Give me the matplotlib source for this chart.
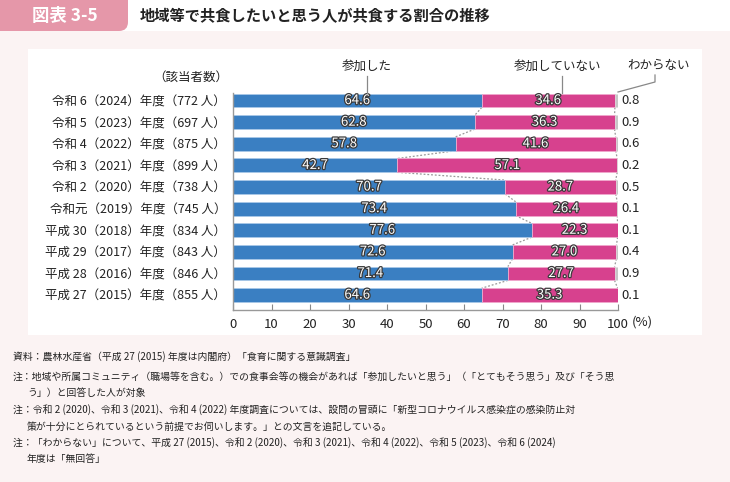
import numpy as np
import matplotlib.pyplot as plt
import matplotlib.patheffects as pe
from matplotlib.patches import Rectangle, FancyBboxPatch
from matplotlib.lines import Line2D
from matplotlib.transforms import IdentityTransform

plt.rcParams['font.family'] = ['Noto Sans CJK JP', 'DejaVu Sans']

# data (top row first)
era = ['令和 6', '令和 5', '令和 4', '令和 3', '令和 2', '令和元',
       '平成 30', '平成 29', '平成 28', '平成 27']
years = ['2024', '2023', '2022', '2021', '2020', '2019', '2018', '2017', '2016', '2015']
counts = ['772', '697', '875', '899', '738', '745', '834', '843', '846', '855']
sanka = [64.6, 62.8, 57.8, 42.7, 70.7, 73.4, 77.6, 72.6, 71.4, 64.6]
fusanka = [34.6, 36.3, 41.6, 57.1, 28.7, 26.4, 22.3, 27.0, 27.7, 35.3]
wakaranai = [0.8, 0.9, 0.6, 0.2, 0.5, 0.1, 0.1, 0.4, 0.9, 0.1]

BLUE = '#3a7fc2'
PINK = '#d7418e'
GREY = '#c6c6c6'

W, H = 730, 482
fig = plt.figure(figsize=(W / 100, H / 100), dpi=100)
fig.patch.set_facecolor('white')


def fx(px):
    return px / W


def fy(py):
    return 1 - py / H


# header box + backgrounds
fig.add_artist(FancyBboxPatch((-20, H - 31), 148, 60,
                              boxstyle='round,pad=0,rounding_size=9',
                              transform=IdentityTransform(),
                              fc='#e597a9', ec='none', zorder=-3))
fig.add_artist(Rectangle((0, 0), 1, fy(31), transform=fig.transFigure,
                         fc='#fbf3f3', ec='none', zorder=-2))
fig.add_artist(Rectangle((fx(28), fy(335)), fx(702) - fx(28), fy(49) - fy(335),
                         transform=fig.transFigure, fc='white', ec='none', zorder=-1))

fig.text(fx(65), fy(16), '図表 3-5', color='white', fontsize=12.5,
         fontweight='bold', ha='center', va='center')
fig.text(fx(140), fy(16), '地域等で共食したいと思う人が共食する割合の推移',
         fontsize=11, fontweight='bold', ha='left', va='center', color='#222')

# chart
ax = fig.add_axes([fx(233), fy(310), fx(618) - fx(233), fy(93) - fy(310)])
ax.patch.set_visible(False)

y = np.arange(len(sanka))
s = np.array(sanka)
f = np.array(fusanka)
w = np.array(wakaranai)
bh = 0.64

ax.barh(y, s, height=bh, color=BLUE, edgecolor='#a9c8e8', linewidth=0.6, zorder=2)
ax.barh(y, f, left=s, height=bh, color=PINK, edgecolor='#f0a8cc', linewidth=0.6, zorder=2)
ax.barh(y, w, left=s + f, height=bh, color=GREY, edgecolor='#e0e0e0', linewidth=0.4, zorder=2)

stroke = [pe.withStroke(linewidth=1.8, foreground='#3a3a3a')]
for i in range(len(y)):
    ax.text(s[i] / 2, i, f'{s[i]:.1f}', ha='center', va='center', color='white',
            fontsize=9.5, path_effects=stroke, zorder=4)
    ax.text(s[i] + f[i] / 2, i, f'{f[i]:.1f}', ha='center', va='center', color='white',
            fontsize=9.5, path_effects=stroke, zorder=4)
    ax.text(101, i, f'{w[i]:.1f}', ha='left', va='center', color='#222',
            fontsize=9.5, clip_on=False)

# dotted connectors between bars
for i in range(len(y) - 1):
    ax.plot([s[i], s[i + 1]], [i + bh / 2, i + 1 - bh / 2], ls=(0, (1.5, 1.5)),
            color='#999999', lw=0.9, zorder=1)
    ax.plot([s[i] + f[i], s[i + 1] + f[i + 1]], [i + bh / 2, i + 1 - bh / 2],
            ls=(0, (1.5, 1.5)), color='#999999', lw=0.9, zorder=1)

ax.set_xlim(0, 100)
ax.set_ylim(len(y) - 1 + 0.69, -0.35)
ax.set_xticks(range(0, 101, 10))
ax.tick_params(axis='x', direction='in', length=4, color='#888888',
               labelsize=9.5, pad=6, labelcolor='#222')
labels = [f'{e}（{yr}）年度（{n} 人）' for e, yr, n in zip(era, years, counts)]
ax.set_yticks(y, labels)
ax.tick_params(axis='y', length=0, pad=5, labelsize=9, labelcolor='#222')
for side in ['top', 'right']:
    ax.spines[side].set_visible(False)
for side in ['left', 'bottom']:
    ax.spines[side].set_color('#999999')
    ax.spines[side].set_linewidth(1)

fig.text(fx(632), fy(322), '(%)', fontsize=9.5, ha='left', va='center', color='#222')
fig.text(fx(228), fy(77), '（該当者数）', fontsize=9, ha='right', va='center', color='#222')

# series headers
fig.text(fx(367), fy(67), '参加した', fontsize=9, ha='center', va='center', color='#222')
fig.add_artist(Line2D([fx(367), fx(367)], [fy(76), fy(93)], color='#888', lw=0.9))
fig.text(fx(558), fy(67), '参加していない', fontsize=9, ha='center', va='center', color='#222')
fig.add_artist(Line2D([fx(562), fx(562)], [fy(76), fy(93)], color='#888', lw=0.9))
fig.text(fx(659), fy(66), 'わからない', fontsize=9, ha='center', va='center', color='#222')
fig.add_artist(Line2D([fx(655), fx(655), fx(618)], [fy(75), fy(82), fy(92)],
                      color='#888', lw=0.9))

# notes
notes = [
    (13, 357, '資料：農林水産省（平成 27 (2015) 年度は内閣府）「食育に関する意識調査」'),
    (13, 377, '注：地域や所属コミュニティ（職場等を含む。）での食事会等の機会があれば「参加したいと思う」（「とてもそう思う」及び「そう思'),
    (27, 393, 'う」）と回答した人が対象'),
    (13, 410, '注：令和 2 (2020)、令和 3 (2021)、令和 4 (2022) 年度調査については、設問の冒頭に「新型コロナウイルス感染症の感染防止対'),
    (27, 427, '策が十分にとられているという前提でお伺いします。」との文言を追記している。'),
    (13, 443, '注：「わからない」について、平成 27 (2015)、令和 2 (2020)、令和 3 (2021)、令和 4 (2022)、令和 5 (2023)、令和 6 (2024)'),
    (27, 459, '年度は「無回答」'),
]
for xp, yp, t in notes:
    fig.text(fx(xp), fy(yp), t, fontsize=7.1, ha='left', va='center', color='#222')

fig.savefig('out.png', dpi=100)
